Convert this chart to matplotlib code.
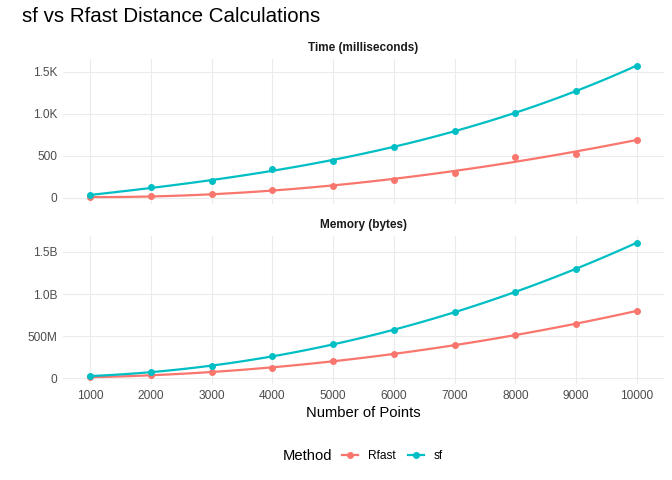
import numpy as np
import matplotlib
matplotlib.use("Agg")
import matplotlib.pyplot as plt
from matplotlib.lines import Line2D

# Data
points = [1000, 2000, 3000, 4000, 5000, 6000, 7000, 8000, 9000, 10000]

time_sf = [30, 130, 195, 340, 440, 600, 800, 1010, 1270, 1570]
time_rfast = [5, 20, 45, 95, 145, 210, 300, 480, 525, 690]

mem_sf = [25e6, 70e6, 150e6, 260e6, 400e6, 575e6, 785e6, 1025e6, 1300e6, 1610e6]
mem_rfast = [10e6, 35e6, 75e6, 125e6, 200e6, 290e6, 390e6, 515e6, 645e6, 800e6]

time_ticks = [0, 500, 1000, 1500]
time_labels = ["0", "500", "1.0K", "1.5K"]
mem_ticks = [0, 500e6, 1000e6, 1500e6]
mem_labels = ["0", "500M", "1.0B", "1.5B"]

methods = ["Rfast", "sf"]
colors = {"Rfast": "#F8766D", "sf": "#00BFC4"}

plt.rcParams["font.family"] = ["Liberation Sans", "DejaVu Sans"]

fig = plt.figure(figsize=(6.72, 4.8), dpi=100)
W, H = 672, 480


def panel(top, bottom):
    return fig.add_axes([63 / W, 1 - bottom / H, 601 / W, (bottom - top) / H])


def style(ax, ticks, labels, title, show_x):
    ax.set_facecolor("white")
    for s in ax.spines.values():
        s.set_visible(False)
    ax.set_xticks(points)
    ax.set_yticks(ticks)
    ax.set_yticklabels(labels)
    ax.grid(which="major", color="#EBEBEB", lw=0.8)
    ax.set_axisbelow(True)
    ax.tick_params(which="both", length=0, colors="#4D4D4D", labelsize=8.6, pad=4)
    if not show_x:
        ax.tick_params(axis="x", labelbottom=False)
    ax.margins(x=0.05, y=0.05)
    ax.set_title(title, fontsize=8.5, fontweight="bold", color="#1A1A1A", pad=6)


def draw(ax, series):
    xs = np.linspace(points[0], points[-1], 120)
    for m in methods:
        vals = series[m]
        fit = np.polyval(np.polyfit(points, vals, 3), xs)
        ax.plot(xs, fit, color=colors[m], lw=1.6, zorder=3)
        ax.plot(points, vals, "o", color=colors[m], ms=4, zorder=4)


ax1 = panel(59, 204)
draw(ax1, {"Rfast": time_rfast, "sf": time_sf})
style(ax1, time_ticks, time_labels, "Time (milliseconds)", False)

ax2 = panel(236, 384)
draw(ax2, {"Rfast": mem_rfast, "sf": mem_sf})
style(ax2, mem_ticks, mem_labels, "Memory (bytes)", True)
ax2.set_xlabel("Number of Points", fontsize=10.6, color="black", labelpad=3)

fig.text(22 / W, 1 - 17 / H, "sf vs Rfast Distance Calculations",
         fontsize=14.8, va="center", ha="left")

fig.text(283 / W, 1 - 456 / H, "Method", fontsize=10.6, va="center", ha="left")
handles = [Line2D([], [], color=colors[m], lw=1.6, marker="o", ms=4) for m in methods]
fig.legend(handles, methods, loc="center left", bbox_to_anchor=(331 / W, 1 - 456 / H),
           ncol=2, frameon=False, fontsize=8.6, handlelength=1.4, handletextpad=0.8,
           columnspacing=1.0)

fig.savefig("out.png", dpi=100, facecolor="white")
